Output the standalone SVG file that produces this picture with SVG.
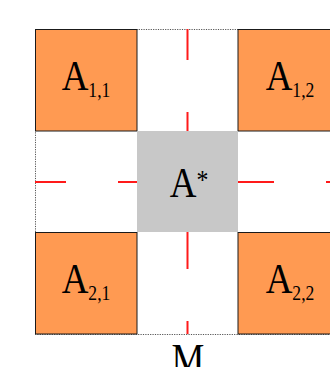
<svg xmlns="http://www.w3.org/2000/svg" width="330" height="367" viewBox="0 0 330 367">
<style>
.blk{fill:#ff9a52;stroke:#1a1a1a;stroke-width:1}
.star{fill:#c8c8c8;stroke:none}
.lbl{font-family:"Liberation Serif","DejaVu Serif",serif;font-size:42px;fill:#000;text-anchor:middle}
.sub{font-size:20px}
.sup{font-size:27px}
.red{stroke:#ff1a1a;stroke-width:2;fill:none}
.dot{fill:none;stroke:#555;stroke-width:1;stroke-dasharray:1.2,1.2}
</style>
<rect width="330" height="367" fill="#fff"/>
<g id="frame">
<rect class="dot" x="35.5" y="29.5" width="305" height="305"/>
</g>
<g id="A11">
<rect class="blk" x="35.5" y="29.5" width="101.5" height="101.5"/>
<text class="lbl" transform="translate(86,90) scale(0.88,1)">A<tspan class="sub" dy="6.5">1,1</tspan></text>
</g>
<g id="A12">
<rect class="blk" x="238" y="29.5" width="102" height="101.5"/>
<text class="lbl" transform="translate(290,90) scale(0.88,1)">A<tspan class="sub" dy="6.5">1,2</tspan></text>
</g>
<g id="A21">
<rect class="blk" x="35.5" y="232.5" width="101.5" height="101.5"/>
<text class="lbl" transform="translate(86,293) scale(0.88,1)">A<tspan class="sub" dy="6.5">2,1</tspan></text>
</g>
<g id="A22">
<rect class="blk" x="238" y="232.5" width="102" height="101.5"/>
<text class="lbl" transform="translate(290,293) scale(0.88,1)">A<tspan class="sub" dy="6.5">2,2</tspan></text>
</g>
<g id="Astar">
<rect class="star" x="137" y="131" width="101" height="101"/>
<text class="lbl" transform="translate(189,197) scale(0.88,1)">A<tspan class="sup" dy="-8">*</tspan></text>
</g>
<g id="connectors">
<path class="red" d="M187.5 29V60M187.5 112V131M187.5 232V269M187.5 321V334"/>
<path class="red" d="M35 182H66M118 182H137M238 182H274M326 182H340"/>
</g>
<g id="M">
<text class="lbl" transform="translate(188,373) scale(0.88,1)">M</text>
</g>
</svg>
